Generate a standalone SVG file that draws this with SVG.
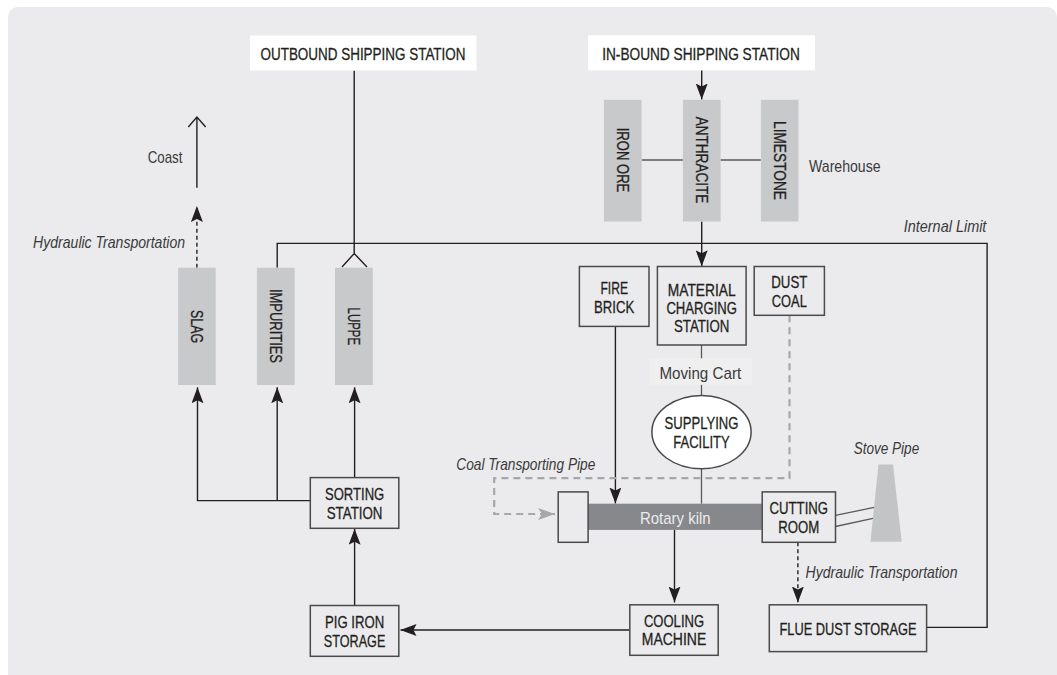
<svg xmlns="http://www.w3.org/2000/svg" width="1057" height="675" viewBox="0 0 1057 675">
<defs>
<style>
text{font-family:"Liberation Sans",Arial,sans-serif;font-size:17px;fill:#231f20}
.lbl{text-anchor:middle;stroke:#231f20;stroke-width:0.3}
.it{font-style:italic;fill:#3a3a3a}
.soft{fill:#3a3a3a;stroke:none}
.kiln{fill:#ececec;text-anchor:middle}
.box{fill:#ebebed;stroke:#4a4a4a;stroke-width:1.5}
.bin{fill:#c8c9cb}
.ln{fill:none;stroke:#231f20;stroke-width:1.4}
.gl{fill:none;stroke:#5a5a5a;stroke-width:1.3}
.dash{fill:none;stroke:#231f20;stroke-width:1.4;stroke-dasharray:4 3}
.pipe{fill:none;stroke:#a6a7a9;stroke-width:2.2;stroke-dasharray:7 5}
</style>
<marker id="ah" viewBox="0 0 16 12" markerWidth="16" markerHeight="12" refX="16" refY="6" orient="auto" markerUnits="userSpaceOnUse">
<path d="M0,0 L16,6 L0,12 L3,6 z" fill="#231f20"/>
</marker>
<marker id="gah" viewBox="0 0 17 12" markerWidth="17" markerHeight="12" refX="17" refY="6" orient="auto" markerUnits="userSpaceOnUse">
<path d="M0,0 L17,6 L0,12 L4,6 z" fill="#a6a7a9"/>
</marker>
</defs>
<rect x="8" y="7" width="1049" height="700" rx="10" fill="#ebebed"/>

<g id="connectors">
<path class="ln" d="M354.2,70.6 V253.5 M342,267 L354.2,253.5 L367,267"/>
<path class="ln" d="M277.2,267.7 V243.4 H987.1 V627.4 H926.6"/>
<path class="ln" d="M196.9,187.7 V117 M188.3,127 L196.9,117 L205.7,127"/>
<path class="dash" d="M196.9,267.7 V206" marker-end="url(#ah)"/>
<path class="ln" d="M701.7,70.2 V99.5" marker-end="url(#ah)"/>
<path class="gl" d="M641.6,160 H682.9 M720.6,160 H760.9"/>
<path class="ln" d="M701.7,221.5 V266.3" marker-end="url(#ah)"/>
<path class="ln" d="M615.4,326.4 V503.5" marker-end="url(#ah)"/>
<path class="gl" d="M701.5,345 V358.5 M701.5,384.7 V395.5 M701.5,468.7 V503.7"/>
<path class="pipe" d="M789.5,315.3 V478.2 H494.2 V514 H540"/>
<path class="pipe" d="M540,514 H555" stroke-dasharray="none" stroke-width="0" marker-end="url(#gah)"/>
<path class="ln" d="M674.5,529.9 V602.5" marker-end="url(#ah)"/>
<path class="dash" d="M797.9,542.3 V602.5" marker-end="url(#ah)"/>
<path class="ln" d="M629.8,630 H400.5" marker-end="url(#ah)"/>
<path class="ln" d="M354.6,605.5 V528.8" marker-end="url(#ah)"/>
<path class="ln" d="M354.6,477.6 V387.3" marker-end="url(#ah)"/>
<path class="ln" d="M310.3,500.6 H197.5 V387.3" marker-end="url(#ah)"/>
<path class="ln" d="M277.2,500.6 V387.3" marker-end="url(#ah)"/>
<path class="gl" d="M835.5,515.4 L874.2,507.4 M835.5,526.5 L874.2,518.1"/>
</g>

<g id="outbound">
<rect x="250" y="35.5" width="226.5" height="35" fill="#ffffff"/>
<text class="lbl" x="363" y="59.8" textLength="205" lengthAdjust="spacingAndGlyphs">OUTBOUND SHIPPING STATION</text>
</g>
<g id="inbound">
<rect x="588.1" y="35.3" width="226.9" height="35" fill="#ffffff"/>
<text class="lbl" x="701" y="59.8" textLength="197.6" lengthAdjust="spacingAndGlyphs">IN-BOUND SHIPPING STATION</text>
</g>
<g id="coast">
<text class="soft" x="147.7" y="162.5" textLength="34.8" lengthAdjust="spacingAndGlyphs">Coast</text>
</g>
<g id="hydraulic-left">
<text class="it" x="33.1" y="248.4" textLength="152" lengthAdjust="spacingAndGlyphs">Hydraulic Transportation</text>
</g>
<g id="iron-ore">
<rect class="bin" x="603.9" y="99.8" width="37.7" height="121.7"/>
<text class="lbl" transform="translate(616.5,160) rotate(90)" textLength="64.6" lengthAdjust="spacingAndGlyphs">IRON ORE</text>
</g>
<g id="anthracite">
<rect class="bin" x="682.9" y="99.8" width="37.7" height="121.7"/>
<text class="lbl" transform="translate(695.5,160) rotate(90)" textLength="86.7" lengthAdjust="spacingAndGlyphs">ANTHRACITE</text>
</g>
<g id="limestone">
<rect class="bin" x="760.9" y="99.8" width="37.6" height="121.7"/>
<text class="lbl" transform="translate(773.5,160.5) rotate(90)" textLength="79" lengthAdjust="spacingAndGlyphs">LIMESTONE</text>
</g>
<g id="warehouse">
<text class="soft" x="809" y="172" textLength="71.6" lengthAdjust="spacingAndGlyphs">Warehouse</text>
</g>
<g id="internal-limit">
<text class="it" x="903.7" y="231.9" textLength="82.7" lengthAdjust="spacingAndGlyphs">Internal Limit</text>
</g>
<g id="slag">
<rect class="bin" x="178.1" y="267.7" width="37.6" height="117.3"/>
<text class="lbl" transform="translate(190.7,326.5) rotate(90)" textLength="33" lengthAdjust="spacingAndGlyphs">SLAG</text>
</g>
<g id="impurities">
<rect class="bin" x="256.9" y="267.7" width="37.8" height="117.3"/>
<text class="lbl" transform="translate(269.6,326) rotate(90)" textLength="74" lengthAdjust="spacingAndGlyphs">IMPURITIES</text>
</g>
<g id="luppe">
<rect class="bin" x="335" y="267.7" width="37.8" height="117.3"/>
<text class="lbl" transform="translate(347.7,326.3) rotate(90)" textLength="37.5" lengthAdjust="spacingAndGlyphs">LUPPE</text>
</g>
<g id="fire-brick">
<rect class="box" x="579.4" y="266.5" width="69.6" height="59.9"/>
<text class="lbl" x="614.2" y="294.1" textLength="27.6" lengthAdjust="spacingAndGlyphs">FIRE</text>
<text class="lbl" x="614.2" y="312.6" textLength="40.3" lengthAdjust="spacingAndGlyphs">BRICK</text>
</g>
<g id="material-charging-station">
<rect class="box" x="657.4" y="266.5" width="88.7" height="78.5"/>
<text class="lbl" x="701.7" y="295.6" textLength="67.9" lengthAdjust="spacingAndGlyphs">MATERIAL</text>
<text class="lbl" x="701.7" y="314" textLength="70.6" lengthAdjust="spacingAndGlyphs">CHARGING</text>
<text class="lbl" x="701.7" y="332.2" textLength="55.5" lengthAdjust="spacingAndGlyphs">STATION</text>
</g>
<g id="dust-coal">
<rect class="box" x="754.2" y="266.5" width="70.2" height="48.8"/>
<text class="lbl" x="789.3" y="288" textLength="36" lengthAdjust="spacingAndGlyphs">DUST</text>
<text class="lbl" x="789.3" y="307.2" textLength="35" lengthAdjust="spacingAndGlyphs">COAL</text>
</g>
<g id="moving-cart">
<rect x="649.3" y="358.5" width="102.5" height="26.2" fill="#efeff0"/>
<text class="soft lbl" x="700.3" y="378.7" textLength="81.7" lengthAdjust="spacingAndGlyphs">Moving Cart</text>
</g>
<g id="supplying-facility">
<ellipse cx="701.5" cy="432.1" rx="49.6" ry="36.6" fill="#ffffff" stroke="#4a4a4a" stroke-width="1.5"/>
<text class="lbl" x="701.5" y="429.1" textLength="73.9" lengthAdjust="spacingAndGlyphs">SUPPLYING</text>
<text class="lbl" x="701.5" y="447.8" textLength="56.5" lengthAdjust="spacingAndGlyphs">FACILITY</text>
</g>
<g id="coal-transporting-pipe">
<text class="it" x="456.3" y="470.1" textLength="139" lengthAdjust="spacingAndGlyphs">Coal Transporting Pipe</text>
</g>
<g id="stove-pipe">
<polygon points="878.5,464.4 893,464.4 901.7,541.7 870.5,541.7" fill="#c3c4c6"/>
<text class="it" x="853.7" y="453.6" textLength="65.5" lengthAdjust="spacingAndGlyphs">Stove Pipe</text>
</g>
<g id="rotary-kiln">
<rect x="588.1" y="503.7" width="173.8" height="26.2" fill="#87888b"/>
<rect class="box" x="558.2" y="491.9" width="29.9" height="50.4"/>
<text class="kiln" x="675.3" y="524.2" textLength="70.6" lengthAdjust="spacingAndGlyphs">Rotary kiln</text>
</g>
<g id="cutting-room">
<rect class="box" x="762.2" y="491.9" width="73.3" height="50.4"/>
<text class="lbl" x="798.8" y="513.8" textLength="58.5" lengthAdjust="spacingAndGlyphs">CUTTING</text>
<text class="lbl" x="798.8" y="532.6" textLength="41" lengthAdjust="spacingAndGlyphs">ROOM</text>
</g>
<g id="hydraulic-right">
<text class="it" x="805.6" y="577.6" textLength="151.9" lengthAdjust="spacingAndGlyphs">Hydraulic Transportation</text>
</g>
<g id="sorting-station">
<rect class="box" x="310.3" y="477.6" width="88.5" height="50.7"/>
<text class="lbl" x="354.6" y="499.5" textLength="59.2" lengthAdjust="spacingAndGlyphs">SORTING</text>
<text class="lbl" x="354.6" y="519.1" textLength="55.8" lengthAdjust="spacingAndGlyphs">STATION</text>
</g>
<g id="pig-iron-storage">
<rect class="box" x="310.3" y="605.5" width="88.5" height="50.8"/>
<text class="lbl" x="354.6" y="628" textLength="59.2" lengthAdjust="spacingAndGlyphs">PIG IRON</text>
<text class="lbl" x="354.6" y="647.4" textLength="61.5" lengthAdjust="spacingAndGlyphs">STORAGE</text>
</g>
<g id="cooling-machine">
<rect class="box" x="629.8" y="604.8" width="88.4" height="50.5"/>
<text class="lbl" x="674" y="626.7" textLength="60.2" lengthAdjust="spacingAndGlyphs">COOLING</text>
<text class="lbl" x="674" y="645.2" textLength="64.5" lengthAdjust="spacingAndGlyphs">MACHINE</text>
</g>
<g id="flue-dust-storage">
<rect class="box" x="769.3" y="604.8" width="157.3" height="46.8"/>
<text class="lbl" x="848" y="634.6" textLength="137" lengthAdjust="spacingAndGlyphs">FLUE DUST STORAGE</text>
</g>
</svg>
